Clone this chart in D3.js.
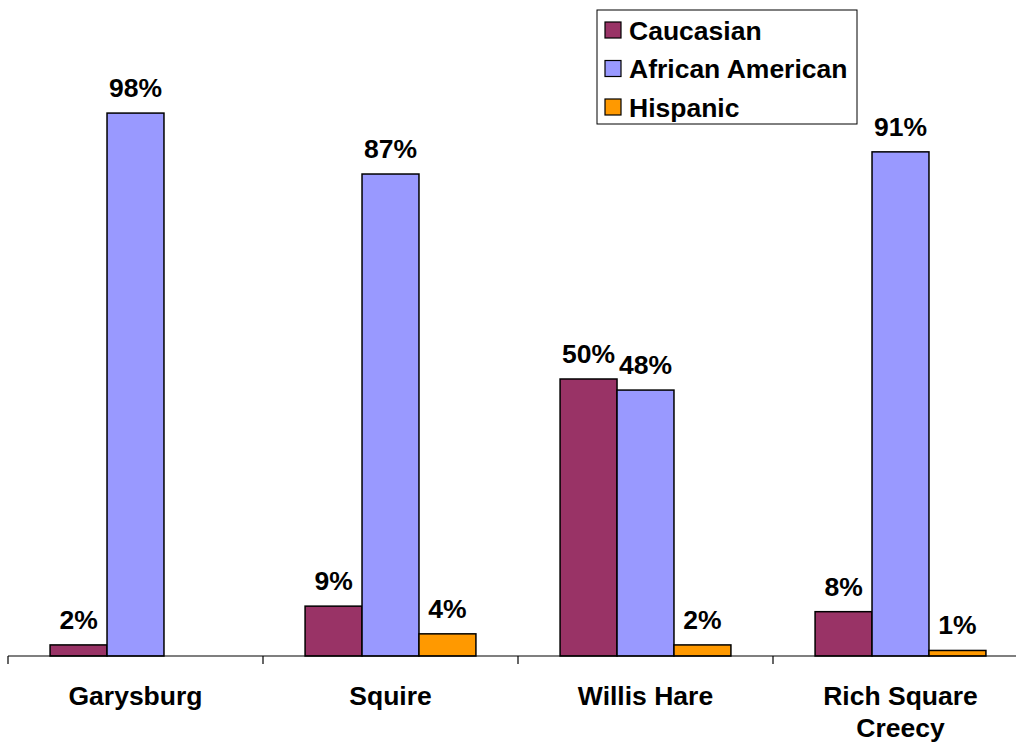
<!DOCTYPE html>
<html>
<head>
<meta charset="utf-8">
<script src="https://cdn.jsdelivr.net/npm/d3@7"></script>
<style>
  html, body { margin: 0; padding: 0; background: #fff; }
  svg { display: block; font-family: "Liberation Sans", Arial, sans-serif; }
</style>
</head>
<body>
<svg id="chart" width="1016" height="744"></svg>
<script>
// Enrollment share by race at each school
const categories = ["Garysburg", "Squire", "Willis Hare", "Rich Square Creecy"];
const categoryLines = [["Garysburg"], ["Squire"], ["Willis Hare"], ["Rich Square", "Creecy"]];
const seriesNames = ["Caucasian", "African American", "Hispanic"];
const caucasian = [2, 9, 50, 8];
const africanAmerican = [98, 87, 48, 91];
const hispanic = [null, 4, 2, 1];
const seriesColors = ["#993366", "#9999FF", "#FF9900"];

const seriesValues = [caucasian, africanAmerican, hispanic];

const svg = d3.select("#chart");
const baseY = 656;
const fontSize = 26.5;

const x = d3.scaleBand()
  .domain(categories)
  .range([8, 1028])
  .paddingInner(0.33)
  .paddingOuter(0.165);

const xSub = d3.scaleBand()
  .domain(seriesNames)
  .range([0, x.bandwidth()]);

const y = d3.scaleLinear()
  .domain([0, 100])
  .range([baseY, baseY - 554]);

// Bars
const rows = [];
categories.forEach((c, i) => {
  seriesNames.forEach((s, j) => {
    const v = seriesValues[j][i];
    if (v !== null) rows.push({ cat: c, series: s, value: v, color: seriesColors[j] });
  });
});

svg.append("g").selectAll("rect")
  .data(rows)
  .join("rect")
  .attr("x", d => x(d.cat) + xSub(d.series))
  .attr("y", d => y(d.value))
  .attr("width", xSub.bandwidth())
  .attr("height", d => y(0) - y(d.value))
  .attr("fill", d => d.color)
  .attr("stroke", "#000")
  .attr("stroke-width", 1.5);

// Value labels
svg.append("g").selectAll("text")
  .data(rows)
  .join("text")
  .attr("x", d => x(d.cat) + xSub(d.series) + xSub.bandwidth() / 2)
  .attr("y", d => y(d.value) - 16)
  .attr("text-anchor", "middle")
  .attr("font-size", fontSize)
  .attr("font-weight", "bold")
  .attr("fill", "#000")
  .text(d => d.value + "%");

// Category axis
const axisX = d3.scaleLinear().domain([0, categories.length]).range([8, 1028]);
const axis = svg.append("g");
axis.append("line")
  .attr("x1", 8).attr("x2", 1028)
  .attr("y1", baseY).attr("y2", baseY)
  .attr("stroke", "#000").attr("stroke-width", 1.2);
axis.selectAll("line.tick")
  .data(d3.range(categories.length + 1))
  .join("line")
  .attr("class", "tick")
  .attr("x1", d => axisX(d)).attr("x2", d => axisX(d))
  .attr("y1", baseY).attr("y2", baseY + 8)
  .attr("stroke", "#000").attr("stroke-width", 1.2);

const catLabels = axis.selectAll("text.cat")
  .data(categories)
  .join("text")
  .attr("class", "cat")
  .attr("text-anchor", "middle")
  .attr("font-size", fontSize)
  .attr("font-weight", "bold")
  .attr("fill", "#000");
catLabels.each(function(c, i) {
  const t = d3.select(this);
  categoryLines[i].forEach((line, k) => {
    t.append("tspan")
      .attr("x", x(c) + x.bandwidth() / 2)
      .attr("y", 705 + k * 32)
      .text(line);
  });
});

// Legend
const legend = svg.append("g").attr("transform", "translate(597,10)");
legend.append("rect")
  .attr("width", 260).attr("height", 114)
  .attr("fill", "#fff").attr("stroke", "#000").attr("stroke-width", 1);
seriesNames.forEach((s, j) => {
  const row = legend.append("g").attr("transform", `translate(0,${20 + j * 38.5})`);
  row.append("rect")
    .attr("x", 8).attr("y", -8)
    .attr("width", 16).attr("height", 16)
    .attr("fill", seriesColors[j]).attr("stroke", "#000").attr("stroke-width", 1.2);
  row.append("text")
    .attr("x", 32).attr("y", 9.5)
    .attr("font-size", fontSize).attr("font-weight", "bold")
    .attr("fill", "#000")
    .text(s);
});
</script>
</body>
</html>
